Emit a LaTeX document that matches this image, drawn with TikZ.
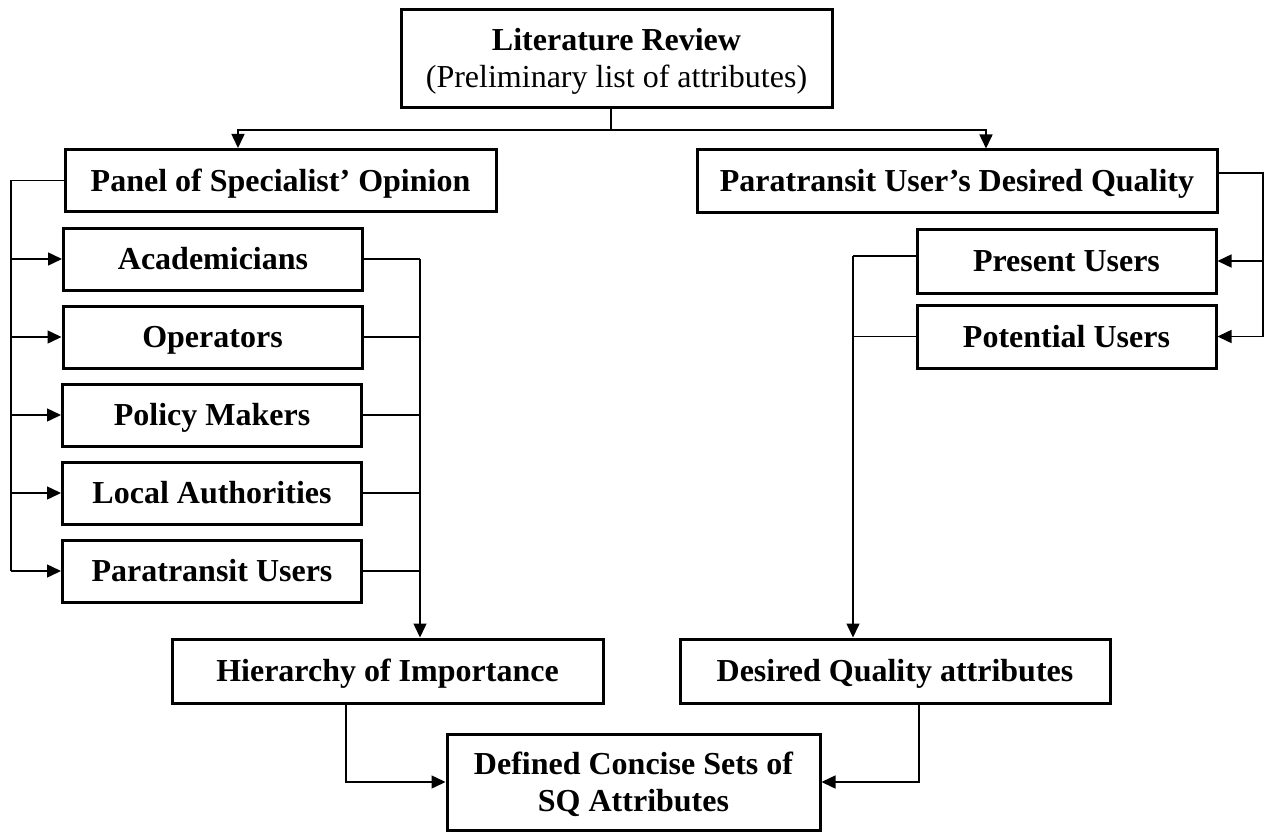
\documentclass[tikz,border=0pt]{standalone}
\usepackage{fontspec}
\setmainfont{Liberation Serif}
\usetikzlibrary{arrows.meta}
\begin{document}
\begin{tikzpicture}[x=1pt,y=-1pt,
  box/.style={draw, line width=3pt, inner sep=0pt, minimum height=62pt,
    align=center, text height=21.5pt, text depth=0pt,
    font=\fontsize{32}{37}\selectfont\bfseries},
  twoline/.style={text height=58pt, text depth=0pt},
  link/.style={line width=1.5pt},
  arr/.style={link, -{Triangle[length=14pt,width=13pt]}}]
\useasboundingbox (0,0) rectangle (1267,832);

% boxes
\node[box, twoline, minimum width=431pt, minimum height=98pt] (lit) at (616.5,59)
  {Literature Review\\{\mdseries (Preliminary list of attributes)}};
\node[box, minimum width=431pt] (panel) at (280.5,180.5) {Panel of Specialist’ Opinion};
\node[box, minimum width=520pt] (pudq) at (957,181) {Paratransit User’s Desired Quality};

\node[box, minimum width=299pt] (acad)    at (213,259) {Academicians};
\node[box, minimum width=299pt] (oper)    at (212.5,337) {Operators};
\node[box, minimum width=299pt] (policy)  at (212,415) {Policy Makers};
\node[box, minimum width=299pt] (local)   at (212,493) {Local Authorities};
\node[box, minimum width=299pt] (ptusers) at (212,571) {Paratransit Users};

\node[box, minimum width=299pt, minimum height=64pt] (present)   at (1066.5,261) {Present Users};
\node[box, minimum width=299pt, minimum height=63pt] (potential) at (1066.5,336.5) {Potential Users};

\node[box, minimum width=431pt, minimum height=64pt] (hier) at (387.5,671) {Hierarchy of Importance};
\node[box, minimum width=430pt, minimum height=64pt] (dqa)  at (895,671) {Desired Quality attributes};
\node[box, twoline, minimum width=373pt, minimum height=96pt] (defined) at (633.5,782)
  {Defined Concise Sets of\\SQ Attributes};

% guide positions for the connector runs
\coordinate (bus) at (611,130);
\coordinate (lx) at (11,0);
\coordinate (rx) at (420,0);
\coordinate (ex) at (1263,0);
\coordinate (mx) at (853,0);
\coordinate (hx) at (346,0);
\coordinate (dx) at (919,0);

% top split
\draw[link] ([xshift=-5.5pt]lit.south) -- (bus);
\draw[arr] (bus) -| ([xshift=-42.5pt]panel.north);
\draw[arr] (bus) -| ([xshift=29pt]pudq.north);

% specialist panel members
\draw[link] (panel.west) -- (panel.west -| lx) -- (ptusers.west -| lx);
\foreach \n in {acad,oper,policy,local,ptusers}
  \draw[arr] (\n.west -| lx) -- (\n.west);
\foreach \n in {acad,oper,policy,local,ptusers}
  \draw[link] (\n.east) -- (\n.east -| rx);
\draw[arr] (acad.east -| rx) -- (hier.north -| rx);

% user groups
\draw[link] ([yshift=8pt]pudq.east) -- ([yshift=8pt]pudq.east -| ex) -- (potential.east -| ex);
\draw[arr] (present.east -| ex) -- (present.east);
\draw[arr] (potential.east -| ex) -- (potential.east);
\draw[link] ([yshift=5pt]present.west) -- ([yshift=5pt]present.west -| mx);
\draw[link] (potential.west) -- (potential.west -| mx);
\draw[arr] ([yshift=5pt]present.west -| mx) -- (dqa.north -| mx);

% merge into the final set
\draw[arr] (hier.south -| hx) |- (defined.west);
\draw[arr] (dqa.south -| dx) |- (defined.east);
\end{tikzpicture}
\end{document}
